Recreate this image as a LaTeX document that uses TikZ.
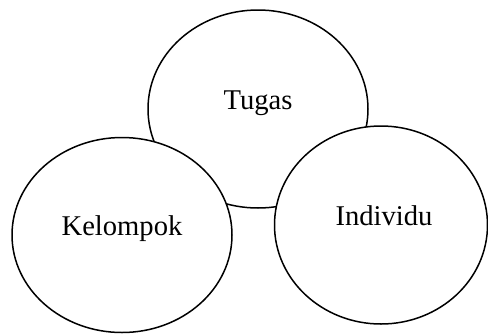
\documentclass[tikz,border=0pt]{standalone}
\usepackage{fontspec}
\setmainfont{Liberation Serif}
\usetikzlibrary{shapes.geometric}

\tikzset{
  bubble/.style={draw=black,fill=white,ellipse,line width=1.5pt,inner sep=0pt},
  word/.style={font=\fontsize{28.6}{34}\selectfont,inner sep=0pt,anchor=base}
}

\begin{document}
\begin{tikzpicture}[x=1pt,y=-1pt,line join=round]
  % Frame of the original artwork, in pixels.
  \useasboundingbox (0,0) rectangle (488,333);

  % Back circle first, the two lower ones cover it.
  \node[bubble,minimum width=220pt,minimum height=198pt] (tugas) at (258,109) {};
  \node[bubble,minimum width=220pt,minimum height=195pt] (kelompok) at (122,235) {};
  \node[bubble,minimum width=213pt,minimum height=198pt] (individu) at (381,225) {};

  % Labels sit on the centre line of each circle.
  \node[word] (tugastext) at (tugas.center) {Tugas};
  \node[word] (kelompoktext) at (kelompok.center) {Kelompok};
  \node[word] (individutext) at ([xshift=3pt]individu.center) {Individu};
\end{tikzpicture}
\end{document}
